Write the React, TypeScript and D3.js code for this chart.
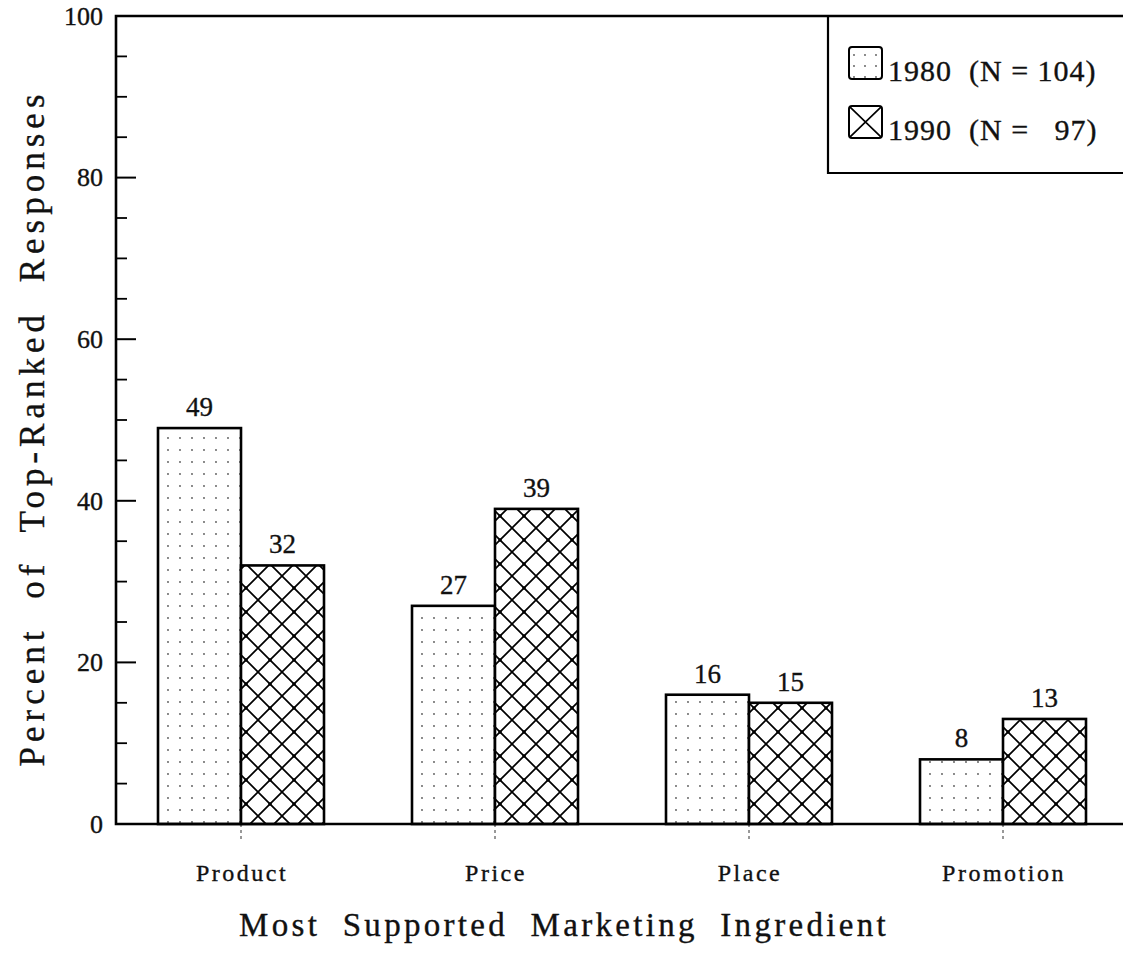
import * as d3 from 'd3'

// data
const categories = ['Product', 'Price', 'Place', 'Promotion']
const seriesNames = ['1980', '1990']
const values1980 = [49, 27, 16, 8]
const values1990 = [32, 39, 15, 13]
const legendLabels = ['1980  (N = 104)', '1990  (N =   97)']
const yMajorTicks = [0, 20, 40, 60, 80, 100]
const yMinorTicks = [5, 10, 15, 25, 30, 35, 45, 50, 55, 65, 70, 75, 85, 90, 95]

const FONT = 'Liberation Serif'
const W = 1123, H = 956
const left = 116, top = 16, bottom = 824

const y = d3.scaleLinear().domain([0, 100]).range([bottom, top])
const x0 = d3.scaleBand().domain(categories).range([114, 1130]).padding(0)
const half = x0.bandwidth() / 2
const x1 = d3.scaleBand().domain(seriesNames).range([half - 83, half + 83]).padding(0)

const rows = categories.map((c, i) => ({
  cat: c,
  vals: [
    { key: '1980', v: values1980[i] },
    { key: '1990', v: values1990[i] },
  ],
}))

const fillFor = (k: string) => (k === '1980' ? 'url(#dots)' : 'url(#hatch)')
const ink = { fill: '#111', stroke: '#111', strokeWidth: 0.35 }

function App() {
  return (
    <div>
      <svg width={W} height={H} fontFamily={FONT}
        style={{ position: 'absolute', left: 0, top: 0, background: '#fff' }}>
        <defs>
          <pattern id="dots" patternUnits="userSpaceOnUse" width={12} height={12}>
            <rect width={12} height={12} fill="#fff" />
            <circle cx={6} cy={6} r={0.9} fill="#555" />
          </pattern>
          <pattern id="hatch" patternUnits="userSpaceOnUse" width={24} height={24}>
            <rect width={24} height={24} fill="#fff" />
            <path d="M0,0L24,24M24,0L0,24" stroke="#000" strokeWidth={1.7} />
            <circle cx={12} cy={12} r={1.8} fill="#000" />
          </pattern>
          <pattern id="ldots" patternUnits="userSpaceOnUse" width={11} height={11}>
            <circle cx={5} cy={8} r={0.9} fill="#555" />
          </pattern>
          <pattern id="lhatch" patternUnits="objectBoundingBox" patternContentUnits="objectBoundingBox" width={1} height={1}>
            <path d="M0,0L1,1M1,0L0,1" stroke="#000" strokeWidth={0.05} />
          </pattern>
        </defs>

        {/* bars and value labels */}
        {rows.map((r) => (
          <g key={r.cat} transform={`translate(${x0(r.cat)},0)`}>
            {r.vals.map((d) => (
              <rect key={d.key} x={x1(d.key)} y={y(d.v)} width={x1.bandwidth()}
                height={bottom - y(d.v)} fill={fillFor(d.key)} stroke="#000" strokeWidth={2.6} />
            ))}
            {r.vals.map((d) => (
              <text key={'t' + d.key} x={x1(d.key)! + x1.bandwidth() / 2} y={y(d.v) - 12}
                textAnchor="middle" fontSize={27} {...ink}>{d.v}</text>
            ))}
          </g>
        ))}

        {/* y axis ticks */}
        {yMajorTicks.map((t) => (
          <g key={'y' + t} transform={`translate(${left},${y(t)})`}>
            <line x1={0} x2={20} stroke="#000" strokeWidth={2} />
            <text x={-13} dy="0.34em" textAnchor="end" fontSize={26} {...ink}>{t}</text>
          </g>
        ))}
        {yMinorTicks.map((t) => (
          <line key={'m' + t} x1={left} x2={left + 11} y1={y(t)} y2={y(t)} stroke="#000" strokeWidth={1.8} />
        ))}

        {/* x axis ticks + labels */}
        {categories.map((c) => {
          const cx = x0(c)! + half
          return (
            <g key={'x' + c}>
              <line x1={cx} x2={cx} y1={bottom} y2={bottom + 16} stroke="#333" strokeWidth={1} strokeDasharray="3,3" />
              <text x={cx + 1} y={bottom + 57} textAnchor="middle" fontSize={24}
                style={{ letterSpacing: '2.5px' }} {...ink}>{c}</text>
            </g>
          )
        })}

        {/* frame */}
        <path d={`M${W},${top}H${left}V${bottom}H${W}`} fill="none" stroke="#000" strokeWidth={2.6} />

        {/* legend */}
        <path d={`M828,${top}V173H${W}`} fill="none" stroke="#000" strokeWidth={2.2} />
        {seriesNames.map((s, i) => (
          <g key={'l' + s} transform={`translate(849,${47 + i * 59})`}>
            <rect width={33} height={32} rx={3} fill={s === '1980' ? 'url(#ldots)' : 'url(#lhatch)'}
              stroke="#000" strokeWidth={2} />
            <text x={39} y={34} fontSize={30} {...ink}
              style={{ whiteSpace: 'pre', letterSpacing: '1px' }}>{legendLabels[i]}</text>
          </g>
        ))}

        {/* axis titles */}
        <text transform={`translate(44,428) rotate(-90)`} textAnchor="middle"
          fontSize={35} {...ink} style={{ letterSpacing: '5px', wordSpacing: '14px' }}>
          Percent of Top-Ranked Responses
        </text>
        <text x={564} y={936} textAnchor="middle" fontSize={33} {...ink}
          style={{ letterSpacing: '3.3px', wordSpacing: '11px' }}>
          Most Supported Marketing Ingredient
        </text>
      </svg>
    </div>
  )
}

export default App
